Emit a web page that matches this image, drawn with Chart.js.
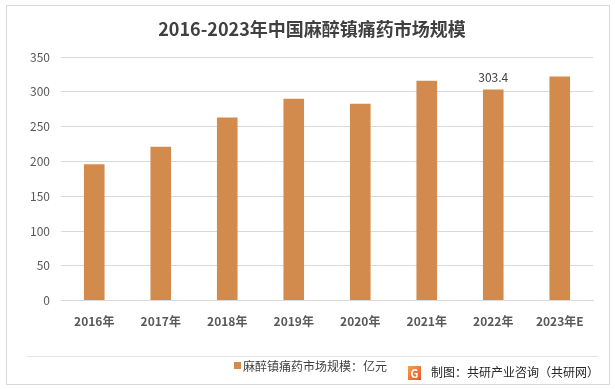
<!DOCTYPE html>
<html>
<head>
<meta charset="utf-8">
<script src="https://cdn.jsdelivr.net/npm/chart.js@4.4.1/dist/chart.umd.min.js"></script>
<style>
  html, body { margin: 0; padding: 0; background: #fff; }
  #wrap { width: 615px; height: 389px; }
</style>
</head>
<body>
<div id="wrap"><canvas id="c" width="615" height="389"></canvas></div>
<script>
const years = ['2016年', '2017年', '2018年', '2019年', '2020年', '2021年', '2022年', '2023年E'];
const marketSize = [196, 221, 263, 290, 283, 316, 303.4, 322];
const seriesName = '麻醉镇痛药市场规模：亿元';
const labelledIndex = [6];
const titleText = '2016-2023年中国麻醉镇痛药市场规模';
const sourceText = '制图：共研产业咨询（共研网）';

const FONT = '"Noto Sans CJK SC", "Noto Sans", sans-serif';
const barColor = '#D38B4D';

// frame, title, legend, source, value labels
const decor = {
    id: 'decor',
    beforeDraw(chart) {
        const ctx = chart.ctx;
        ctx.save();
        ctx.fillStyle = '#fff';
        ctx.fillRect(0, 0, chart.width, chart.height);
        ctx.strokeStyle = '#d9d9d9';
        ctx.lineWidth = 1;
        ctx.strokeRect(6.5, 5.5, 603, 379);
        ctx.strokeStyle = '#e3e3e3';
        ctx.beginPath();
        ctx.moveTo(27, 356.5);
        ctx.lineTo(598, 356.5);
        ctx.stroke();
        ctx.restore();
    },
    afterDraw(chart) {
        const ctx = chart.ctx;
        ctx.save();
        // title
        ctx.fillStyle = '#404040';
        ctx.font = 'bold 18px ' + FONT;
        ctx.textAlign = 'center';
        ctx.textBaseline = 'middle';
        ctx.fillText(titleText, 312, 29);

        // legend
        ctx.fillStyle = chart.data.datasets[0].backgroundColor;
        ctx.fillRect(234, 362, 7, 7);
        ctx.fillStyle = '#404040';
        ctx.font = '12px ' + FONT;
        ctx.textAlign = 'left';
        ctx.fillText(chart.data.datasets[0].label, 243, 366);

        // source logo
        const g = ctx.createLinearGradient(408, 366, 421, 380);
        g.addColorStop(0, '#f5a04a');
        g.addColorStop(1, '#e8542e');
        ctx.fillStyle = g;
        ctx.fillRect(408, 366, 13, 14);
        ctx.fillStyle = '#fff';
        ctx.font = 'bold 11px ' + FONT;
        ctx.textAlign = 'center';
        ctx.fillText('G', 414.5, 373.5);

        ctx.fillStyle = '#262626';
        ctx.font = '12px ' + FONT;
        ctx.textAlign = 'left';
        ctx.fillText(sourceText, 431, 372);

        // value label
        const meta = chart.getDatasetMeta(0);
        ctx.fillStyle = '#404040';
        ctx.font = '12px ' + FONT;
        ctx.textAlign = 'center';
        ctx.textBaseline = 'bottom';
        labelledIndex.forEach(i => {
            const bar = meta.data[i];
            ctx.fillText(String(marketSize[i]), bar.x, bar.y - 6);
        });
        ctx.restore();
    }
};

const ctx = document.getElementById('c').getContext('2d');
const chart = new Chart(ctx, {
    type: 'bar',
    data: {
        labels: years,
        datasets: [{
            label: seriesName,
            data: marketSize,
            backgroundColor: barColor,
            borderWidth: 0,
            barPercentage: 0.31,
            categoryPercentage: 1.0
        }]
    },
    options: {
        responsive: false,
        animation: false,
        devicePixelRatio: 1,
        layout: {
            padding: { left: 0, right: 22, top: 57, bottom: 54 }
        },
        plugins: {
            legend: { display: false },
            title: { display: false },
            tooltip: { enabled: false }
        },
        scales: {
            x: {
                grid: { display: false },
                border: { color: '#d9d9d9' },
                ticks: {
                    color: '#595959',
                    font: { family: FONT, size: 12, weight: 'bold' },
                    padding: 6,
                    maxRotation: 0
                }
            },
            y: {
                min: 0,
                max: 350,
                afterFit(scale) { scale.width = 61; },
                ticks: {
                    stepSize: 50,
                    color: '#595959',
                    font: { family: FONT, size: 12 },
                    padding: 11
                },
                grid: { color: '#d9d9d9', drawTicks: false },
                border: { display: false }
            }
        }
    },
    plugins: [decor]
});
</script>
</body>
</html>
